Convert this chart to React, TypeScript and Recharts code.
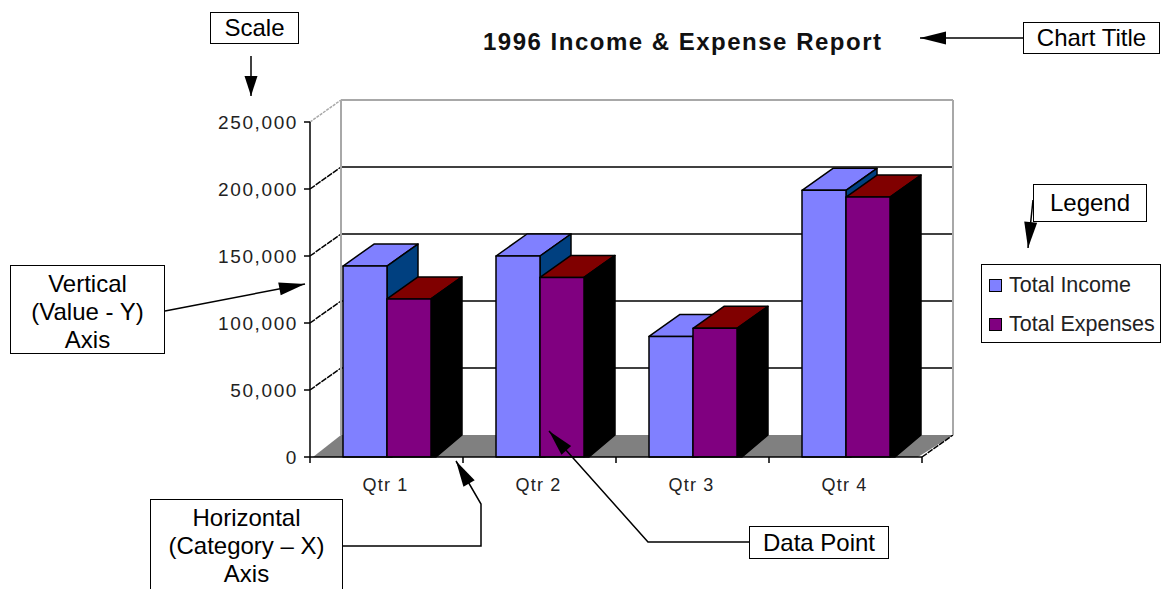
import { BarChart, Bar, XAxis, YAxis, CartesianGrid, Legend } from "recharts";

const categories = ["Qtr 1", "Qtr 2", "Qtr 3", "Qtr 4"];
const totalIncome = [142500, 150000, 90000, 199000];
const totalExpenses = [118000, 134000, 96000, 194000];
const yTicks = [0, 50000, 100000, 150000, 200000, 250000];

const chartData = categories.map((name, i) => ({
  name,
  income: totalIncome[i],
  expenses: totalExpenses[i],
}));

const WIDTH = 1161;
const HEIGHT = 589;
const PLOT_TOP = 122;
const PLOT_BOTTOM = 457;
const PLOT_LEFT = 310;
const PLOT_RIGHT = 922;
// 3d offset of the back wall
const DX = 31;
const DY = 22;
const CAT_WIDTH = (PLOT_RIGHT - PLOT_LEFT) / categories.length;
const FONT = '"Liberation Sans", Arial, sans-serif';

const boxes = [
  { label: ["Scale"], x: 210, y: 12, w: 89, h: 32 },
  { label: ["Chart Title"], x: 1023, y: 22, w: 137, h: 32 },
  { label: ["Legend"], x: 1033, y: 184, w: 114, h: 38 },
  { label: ["Vertical", "(Value - Y)", "Axis"], x: 10, y: 265, w: 155, h: 89 },
  { label: ["Horizontal", "(Category \u2013 X)", "Axis"], x: 150, y: 499, w: 193, h: 100 },
  { label: ["Data Point"], x: 749, y: 526, w: 140, h: 33 },
];

function wallLine(props: any) {
  const { x1, x2, y1 } = props;
  const isTop = Math.abs(y1 - PLOT_TOP) < 1;
  const isFloor = Math.abs(y1 - PLOT_BOTTOM) < 1;
  const backY = y1 - DY;
  if (isFloor) {
    return (
      <g key="floor">
        <polygon
          points={`${x1 + 3},${y1} ${x2 - 4},${y1} ${x2 + DX},${backY} ${x1 + DX},${backY}`}
          fill="#808080"
        />
        <line x1={x2} y1={y1} x2={x2 + DX} y2={backY} stroke="#000" strokeWidth={1.5} strokeDasharray="6 1" />
      </g>
    );
  }
  return (
    <g key={y1}>
      <line
        x1={x1}
        y1={y1}
        x2={x1 + DX}
        y2={backY}
        stroke={isTop ? "#a8a8a8" : "#000"}
        strokeWidth={1.5}
        strokeDasharray={isTop ? "3 1" : "6 1"}
      />
      <line x1={x1 + DX} y1={backY} x2={x2 + DX} y2={backY} stroke={isTop ? "#a8a8a8" : "#000"} strokeWidth={isTop ? 2 : 1.5} />
      {isTop && (
        <>
          <line x1={x1 + DX} y1={backY} x2={x1 + DX} y2={PLOT_BOTTOM - DY} stroke="#a8a8a8" strokeWidth={2} />
          <line x1={x2 + DX} y1={backY} x2={x2 + DX} y2={PLOT_BOTTOM - DY} stroke="#a8a8a8" strokeWidth={2} />
        </>
      )}
    </g>
  );
}

function bar3d(topColor: string, sideColor: string) {
  return (props: any) => {
    const { x, y, width, height, fill } = props;
    const r = x + width;
    const b = y + height;
    return (
      <g stroke="#000" strokeWidth={1.5} strokeLinejoin="round">
        <polygon points={`${x},${y} ${x + DX},${y - DY} ${r + DX},${y - DY} ${r},${y}`} fill={topColor} />
        <polygon
          points={`${r},${y} ${r + DX},${y - DY} ${r + DX},${b - DY} ${r + 5},${b} ${r},${b}`}
          fill={sideColor}
        />
        <rect x={x} y={y} width={width} height={height} fill={fill} />
      </g>
    );
  };
}

function CategoryTick(props: any) {
  const { x, payload, index } = props;
  return (
    <g>
      {index === 0 && (
        <line x1={x - CAT_WIDTH / 2} y1={PLOT_BOTTOM} x2={x - CAT_WIDTH / 2} y2={PLOT_BOTTOM + 6} stroke="#000" strokeWidth={1.5} />
      )}
      <line x1={x + CAT_WIDTH / 2} y1={PLOT_BOTTOM} x2={x + CAT_WIDTH / 2} y2={PLOT_BOTTOM + 6} stroke="#000" strokeWidth={1.5} />
      <text x={x - 1} y={PLOT_BOTTOM + 34} textAnchor="middle" fontFamily={FONT} fontSize={18} letterSpacing={1.2} fill="#222">
        {payload.value}
      </text>
    </g>
  );
}

function LegendBox(props: any) {
  return (
    <div style={{ width: 178, height: 77, border: "1.5px solid #000", background: "#fff", boxSizing: "content-box" }}>
      {props.payload.map((item: any, i: number) => (
        <div
          key={item.value}
          style={{ position: "absolute", left: 8, top: 13 + i * 39, display: "flex", alignItems: "center", height: 16 }}
        >
          <span style={{ width: 11, height: 11, background: item.color, border: "1.5px solid #000", marginRight: 7 }} />
          <span style={{ fontFamily: FONT, fontSize: 21.5, color: "#222", whiteSpace: "nowrap" }}>{item.value}</span>
        </div>
      ))}
    </div>
  );
}

function Arrow({ points, headLength = 26, headWidth = 13 }: { points: number[][]; headLength?: number; headWidth?: number }) {
  const tip = points[points.length - 1];
  const prev = points[points.length - 2];
  const len = Math.hypot(tip[0] - prev[0], tip[1] - prev[1]);
  const ux = (tip[0] - prev[0]) / len;
  const uy = (tip[1] - prev[1]) / len;
  const bx = tip[0] - ux * headLength;
  const by = tip[1] - uy * headLength;
  const px = (-uy * headWidth) / 2;
  const py = (ux * headWidth) / 2;
  return (
    <g>
      <polyline points={points.map((p) => p.join(",")).join(" ")} fill="none" stroke="#000" strokeWidth={1.5} />
      <polygon points={`${tip[0]},${tip[1]} ${bx + px},${by + py} ${bx - px},${by - py}`} fill="#000" />
    </g>
  );
}

export default function App() {
  return (
    <div style={{ position: "absolute", left: 0, top: 0, width: WIDTH, height: HEIGHT, overflow: "hidden", background: "#fff" }}>
      <BarChart
        width={WIDTH}
        height={HEIGHT}
        data={chartData}
        margin={{ top: PLOT_TOP, right: WIDTH - PLOT_RIGHT, bottom: 0, left: 0 }}
        barSize={44}
        barGap={0}
      >
        <CartesianGrid horizontal={wallLine} vertical={false} syncWithTicks />
        <XAxis dataKey="name" height={HEIGHT - PLOT_BOTTOM} tick={CategoryTick} tickLine={false} stroke="#000" strokeWidth={1.5} interval={0} />
        <YAxis
          width={PLOT_LEFT}
          domain={[0, 250000]}
          ticks={yTicks}
          tickFormatter={(v: number) => v.toLocaleString("en-US")}
          tick={{ fontFamily: FONT, fontSize: 19, fill: "#222", letterSpacing: 1.6 }}
          tickSize={6}
          tickMargin={6}
          stroke="#000"
          strokeWidth={1.5}
        />
        <Legend
          layout="vertical"
          align="center"
          verticalAlign="middle"
          itemSorter={null}
          content={LegendBox}
          wrapperStyle={{ left: 981, top: 264, width: 180, height: 79 }}
        />
        <Bar dataKey="income" name="Total Income" fill="#8080ff" shape={bar3d("#8080ff", "#004080")} isAnimationActive={false} />
        <Bar dataKey="expenses" name="Total Expenses" fill="#800080" shape={bar3d("#800000", "#000000")} isAnimationActive={false} />
      </BarChart>

      <div style={{ position: "absolute", left: 483, top: 28, fontFamily: FONT, fontWeight: 700, fontSize: 24, color: "#111", whiteSpace: "nowrap", letterSpacing: 1.5 }}>
        1996 Income &amp; Expense Report
      </div>

      <svg width={WIDTH} height={HEIGHT} style={{ position: "absolute", left: 0, top: 0, pointerEvents: "none" }}>
        <Arrow points={[[251, 56], [251, 96]]} headLength={20} />
        <Arrow points={[[1023, 38], [920, 38]]} />
        <Arrow points={[[1033, 200], [1028, 248]]} />
        <Arrow points={[[165, 311], [305, 284]]} />
        <Arrow points={[[343, 546], [481, 546], [481, 504], [456, 461]]} />
        <Arrow points={[[749, 542], [648, 542], [549, 431]]} />
      </svg>

      {boxes.map((b) => (
        <div
          key={b.label[0]}
          style={{
            position: "absolute",
            left: b.x,
            top: b.y,
            width: b.w,
            height: b.h,
            boxSizing: "border-box",
            border: "1.5px solid #000",
            background: "#fff",
            fontFamily: FONT,
            fontSize: 24,
            lineHeight: "28px",
            color: "#000",
            textAlign: "center",
            display: "flex",
            flexDirection: "column",
            justifyContent: b.label.length > 1 ? "flex-start" : "center",
            paddingTop: b.label.length > 1 ? 4 : 0,
          }}
        >
          {b.label.map((line) => (
            <div key={line}>{line}</div>
          ))}
        </div>
      ))}
    </div>
  );
}
